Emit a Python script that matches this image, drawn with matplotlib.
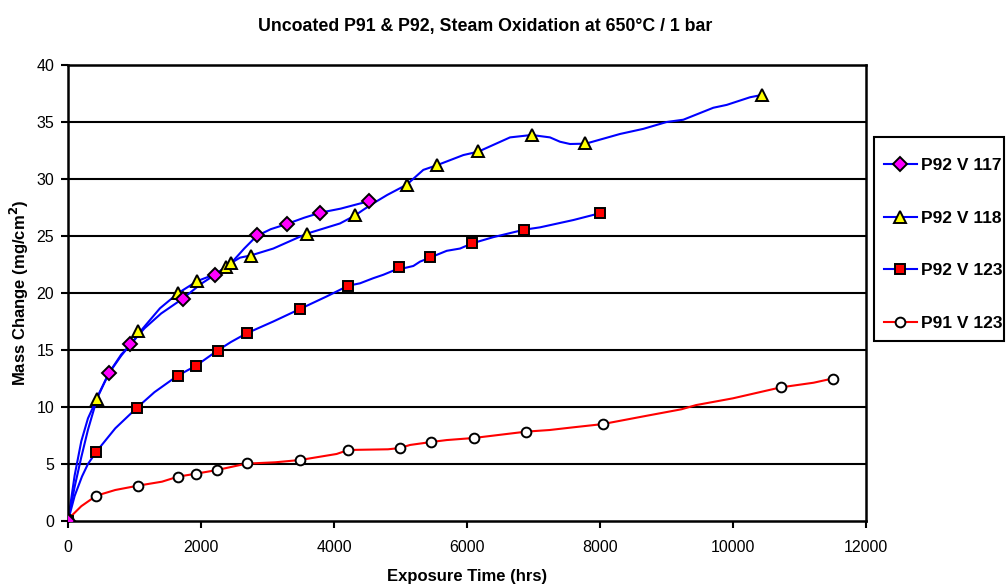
import matplotlib
matplotlib.use("Agg")
import matplotlib.pyplot as plt
from matplotlib.lines import Line2D
from matplotlib.patches import Rectangle

plt.rcParams['font.family'] = ['Liberation Sans', 'DejaVu Sans']

title = "Uncoated P91 & P92, Steam Oxidation at 650°C / 1 bar"
xlabel = "Exposure Time (hrs)"
ylabel = "Mass Change (mg/cm$^{\\mathbf{2}}$)"
series_names = ["P92 V 117", "P92 V 118", "P92 V 123", "P91 V 123"]

# ---- marker data (measurement points) ----
v117_x = [0, 620, 937, 1724, 2211, 2837, 3290, 3795, 4531]
v117_y = [0, 13.0, 15.5, 19.5, 21.6, 25.05, 26.05, 27.05, 28.05]

v118_x = [0, 430, 1050, 1659, 1940, 2371, 2451, 2752, 3589, 4316, 5093, 5544, 6170, 6972, 7780, 10431]
v118_y = [0, 10.67, 16.65, 20.0, 21.05, 22.3, 22.6, 23.25, 25.2, 26.8, 29.5, 31.2, 32.45, 33.87, 33.15, 37.37]

p92v123_x = [0, 426, 1040, 1649, 1925, 2250, 2685, 3489, 4210, 4982, 5444, 6080, 6857, 8000]
p92v123_y = [0, 6.08, 9.94, 12.75, 13.62, 14.94, 16.46, 18.6, 20.64, 22.25, 23.13, 24.36, 25.55, 27.0]

p91_x = [0, 426, 1050, 1654, 1925, 2245, 2685, 3489, 4215, 4989, 5463, 6098, 6891, 8039, 10716, 11500]
p91_y = [0.15, 2.22, 3.1, 3.89, 4.12, 4.5, 5.05, 5.38, 6.23, 6.4, 6.93, 7.28, 7.84, 8.5, 11.72, 12.5]

# ---- continuous trend lines ----
v117_lx = [0, 100, 200, 300, 450, 620, 800, 940, 1150, 1400, 1724, 2000, 2211, 2450, 2650, 2837, 3050, 3290, 3550, 3795, 4100, 4391, 4531]
v117_ly = [0, 3.0, 5.6, 8.0, 11.0, 13.0, 14.5, 15.5, 16.9, 18.2, 19.5, 20.8, 21.6, 22.6, 23.9, 25.0, 25.6, 26.05, 26.6, 27.05, 27.4, 27.85, 28.05]

v118_lx = [0, 100, 200, 300, 430, 612, 800, 962, 1083, 1383, 1659, 1945, 2236, 2371, 2461, 2586, 2752, 3087, 3589, 4090, 4316, 4441, 4600, 4800,
           5093, 5343, 5544, 5945, 6170, 6647, 6972, 7248, 7398, 7549, 7785, 8150, 8301, 8652, 9002, 9253, 9704, 9905, 10256, 10431]
v118_ly = [0, 4.0, 7.0, 9.0, 10.67, 12.95, 14.6, 15.6, 16.6, 18.66, 20.0, 21.05, 21.7, 22.3, 22.66, 23.1, 23.3, 23.9, 25.2, 26.1, 26.8, 27.3, 27.9, 28.6,
           29.5, 30.8, 31.2, 32.1, 32.4, 33.65, 33.86, 33.65, 33.27, 33.07, 33.1, 33.7, 33.95, 34.4, 35.0, 35.2, 36.25, 36.5, 37.17, 37.37]

p92v123_lx = [0, 100, 210, 300, 426, 711, 1038, 1300, 1649, 1925, 2245, 2450, 2685, 3087, 3489, 3890, 4215, 4391, 4591, 4742, 4892, 5193, 5293,
              5695, 5895, 6080, 6396, 6857, 7098, 7599, 8000]
p92v123_ly = [0, 2.2, 3.9, 5.0, 6.08, 8.13, 9.94, 11.3, 12.75, 13.62, 14.94, 15.7, 16.46, 17.5, 18.6, 19.7, 20.64, 20.85, 21.3, 21.6, 21.96, 22.37, 22.75,
              23.7, 23.9, 24.36, 24.9, 25.55, 25.76, 26.4, 27.0]

p91_lx = [0, 200, 426, 711, 1053, 1414, 1654, 1925, 2240, 2681, 3117, 3489, 4040, 4215, 4812, 4989, 5143, 5463, 5695, 6098, 6466, 6891, 7240,
          7571, 8039, 8673, 9225, 9446, 9998, 10716, 11212, 11500]
p91_ly = [0.15, 1.3, 2.22, 2.72, 3.1, 3.45, 3.89, 4.15, 4.47, 5.03, 5.15, 5.35, 5.88, 6.23, 6.29, 6.4, 6.67, 6.93, 7.1, 7.28, 7.54, 7.84, 7.98,
          8.2, 8.5, 9.2, 9.8, 10.17, 10.76, 11.72, 12.13, 12.5]

x_ticks = [0, 2000, 4000, 6000, 8000, 10000, 12000]
y_ticks = [0, 5, 10, 15, 20, 25, 30, 35, 40]

W, H = 1006, 586
fig = plt.figure(figsize=(W / 100, H / 100), dpi=100)
ax = fig.add_axes([68 / W, 65 / H, 798 / W, 456 / H])

BLUE = '#0000FF'
RED = '#FF0000'

for y in y_ticks[1:]:
    ax.axhline(y, color='black', lw=1.5, zorder=1)

ax.plot(v117_lx, v117_ly, color=BLUE, lw=1.5, zorder=2)
ax.plot(v118_lx, v118_ly, color=BLUE, lw=1.5, zorder=2)
ax.plot(p92v123_lx, p92v123_ly, color=BLUE, lw=1.5, zorder=2)
ax.plot(p91_lx, p91_ly, color=RED, lw=1.5, zorder=2)

ax.plot(p91_x, p91_y, ls='none', marker='o', ms=7, mfc='white', mec='black', mew=1.4, zorder=3)
ax.plot(p92v123_x, p92v123_y, ls='none', marker='s', ms=7, mfc=RED, mec='black', mew=1.4, zorder=3)
ax.plot(v118_x, v118_y, ls='none', marker='^', ms=9, mfc='#FFFF00', mec='black', mew=1.4, zorder=3)
ax.plot(v117_x, v117_y, ls='none', marker='D', ms=7, mfc='#FF00FF', mec='black', mew=1.4, zorder=3)

ax.set_xlim(0, 12000)
ax.set_ylim(0, 40)
ax.set_xticks(x_ticks)
ax.set_yticks(y_ticks)
ax.tick_params(direction='out', length=5, width=1.5, labelsize=11.5)
ax.tick_params(axis='x', pad=9)
ax.tick_params(axis='y', pad=5)
for s in ax.spines.values():
    s.set_linewidth(1.8)
    s.set_color('black')

fig.text(467 / W, 1 - 577 / H, xlabel, ha='center', va='center', fontsize=12, fontweight='bold')
fig.text(19 / W, 1 - 293 / H, ylabel, ha='center', va='center', rotation=90, fontsize=12, fontweight='bold')
fig.text(485 / W, 1 - 27 / H, title, ha='center', va='center', fontsize=12.8, fontweight='bold')

handles = [
    Line2D([], [], color=BLUE, lw=1.5, marker='D', ms=7, mfc='#FF00FF', mec='black', mew=1.4),
    Line2D([], [], color=BLUE, lw=1.5, marker='^', ms=8, mfc='#FFFF00', mec='black', mew=1.4),
    Line2D([], [], color=BLUE, lw=1.5, marker='s', ms=7, mfc=RED, mec='black', mew=1.4),
    Line2D([], [], color=RED, lw=1.5, marker='o', ms=7, mfc='white', mec='black', mew=1.4),
]
fig.patches.append(Rectangle((874 / W, 1 - 341 / H), 130 / W, 204 / H, transform=fig.transFigure,
                             facecolor='white', edgecolor='black', lw=1.5, zorder=5))
leg = fig.legend(handles, series_names, loc='upper left', bbox_to_anchor=(884 / W, 1 - 158 / H),
                 frameon=False, prop={'weight': 'bold', 'size': 12.5}, labelspacing=2.15,
                 handlelength=1.9, handletextpad=0.25, borderpad=0, borderaxespad=0)
leg.set_zorder(6)

fig.savefig('out.png', dpi=100)
